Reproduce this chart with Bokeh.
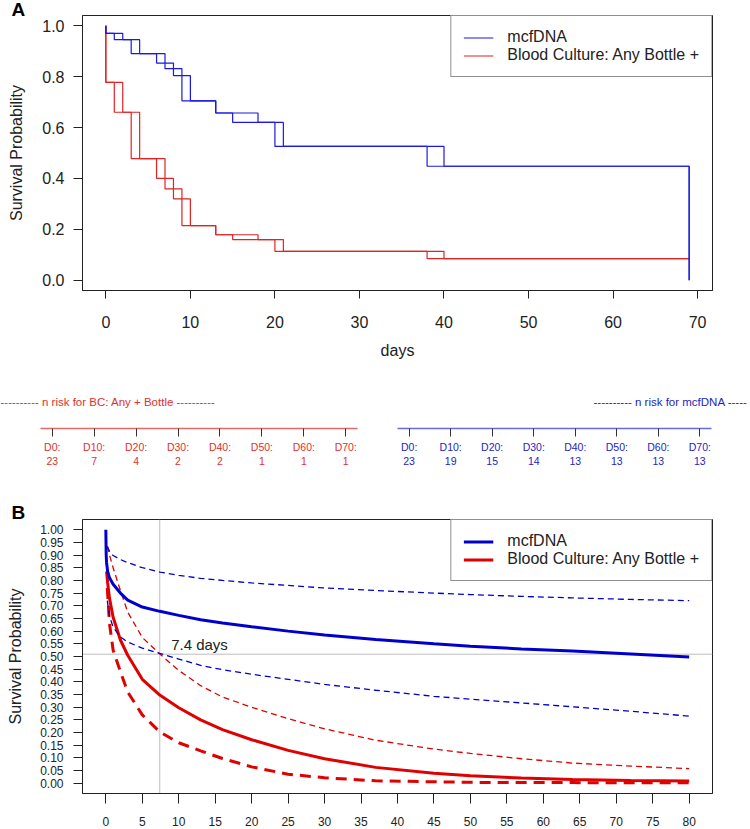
from bokeh.plotting import figure
from bokeh.models import (Range1d, FixedTicker, Legend, LegendItem, Label, Span,
                          PrintfTickFormatter, Title)
from bokeh.layouts import column, row
from bokeh.embed import file_html
from bokeh.resources import INLINE

FONT = "Liberation Sans"

# ---------------- Panel A: Kaplan-Meier step curves ----------------
mcf_days_a = [0, 0, 1, 3, 6, 7, 9, 13, 15, 20, 38, 69]
mcf_surv_a = [1.0, 0.97, 0.945, 0.89, 0.853, 0.831, 0.705, 0.657, 0.62, 0.526, 0.448, 0.0]
mcf_days_b = [0, 0, 2, 4, 7, 8, 10, 13, 18, 21, 40, 69]
mcf_surv_b = [1.0, 0.97, 0.945, 0.89, 0.853, 0.804, 0.705, 0.657, 0.62, 0.526, 0.448, 0.0]

bc_days_a = [0, 0, 1, 3, 6, 7, 9, 13, 15, 20, 38, 69]
bc_surv_a = [1.0, 0.777, 0.66, 0.478, 0.40, 0.359, 0.215, 0.179, 0.16, 0.114, 0.085, 0.085]
bc_days_b = [0, 0, 2, 4, 7, 8, 10, 13, 18, 21, 40, 69]
bc_surv_b = [1.0, 0.777, 0.66, 0.478, 0.40, 0.32, 0.215, 0.179, 0.16, 0.114, 0.085, 0.085]

a_xticks = [0, 10, 20, 30, 40, 50, 60, 70]
a_yticks = [0.0, 0.2, 0.4, 0.6, 0.8, 1.0]

# ---------------- Numbers at risk ----------------
risk_days = [0, 10, 20, 30, 40, 50, 60, 70]
risk_bc = [23, 7, 4, 2, 2, 1, 1, 1]
risk_mcf = [23, 19, 15, 14, 13, 13, 13, 13]
risk_bc_title = "---------- n risk for BC: Any + Bottle ----------"
risk_mcf_title = "---------- n risk for mcfDNA -----"

# ---------------- Panel B: parametric fits with confidence bands ----------------
mcf_fit_t = [0, 0.05, 0.1, 0.25, 0.5, 1, 2, 3, 5, 7.4, 10, 13, 16, 20, 25, 30, 37, 45, 50, 57, 64, 72, 80]
mcf_fit = [1.0, 0.90, 0.87, 0.835, 0.81, 0.785, 0.75, 0.722, 0.695, 0.678, 0.662, 0.645, 0.632,
           0.617, 0.60, 0.585, 0.567, 0.55, 0.54, 0.53, 0.522, 0.51, 0.498]

ci_t = [0.2, 0.5, 1, 2, 3, 5, 7.4, 10, 13, 16, 20, 25, 30, 37, 45, 50, 57, 64, 72, 80]
mcf_hi = [0.935, 0.915, 0.898, 0.882, 0.87, 0.85, 0.833, 0.82, 0.808, 0.80, 0.79, 0.78, 0.77,
          0.76, 0.75, 0.744, 0.737, 0.731, 0.725, 0.72]
mcf_lo = [0.72, 0.66, 0.615, 0.577, 0.557, 0.533, 0.512, 0.49, 0.465, 0.448, 0.43, 0.41, 0.39,
          0.367, 0.343, 0.332, 0.317, 0.302, 0.284, 0.265]

bc_fit_t = [0.1, 0.25, 0.5, 1, 2, 3, 5, 7.4, 10, 13, 16, 20, 25, 30, 37, 45, 50, 57, 64, 72, 80]
bc_fit = [0.835, 0.79, 0.73, 0.655, 0.565, 0.505, 0.41, 0.348, 0.298, 0.25, 0.212, 0.172, 0.13,
          0.097, 0.063, 0.04, 0.03, 0.021, 0.015, 0.011, 0.009]
bc_hi = [0.935, 0.90, 0.85, 0.76, 0.675, 0.575, 0.51, 0.445, 0.385, 0.34, 0.30, 0.255, 0.215,
         0.17, 0.135, 0.118, 0.097, 0.08, 0.068, 0.058]
bc_lo = [0.77, 0.63, 0.525, 0.44, 0.36, 0.27, 0.203, 0.16, 0.128, 0.098, 0.065, 0.036, 0.022,
         0.01, 0.006, 0.004, 0.003, 0.003, 0.002, 0.002]

b_xticks = list(range(0, 81, 5))
b_yticks = [i / 20 for i in range(21)]
median_day = 7.4
ref_prob = 0.509
median_text = "7.4 days"

labels = ["mcfDNA", "Blood Culture: Any Bottle +"]

BLUE_A, RED_A = "#1a1ae0", "#e02424"
BLUE_B, RED_B = "#0000cd", "#e00000"
GRAY = "#bebebe"
INK = "#222222"


def style(p, tick_font, label_font="16px"):
    p.grid.visible = False
    p.outline_line_color = INK
    p.outline_line_width = 1
    for ax in (p.xaxis[0], p.yaxis[0]):
        ax.axis_line_color = INK
        ax.major_tick_line_color = INK
        ax.minor_tick_line_color = None
        ax.major_tick_in = 0
        ax.major_label_text_font = FONT
        ax.major_label_text_font_size = tick_font
        ax.major_label_text_color = INK
        ax.axis_label_text_font = FONT
        ax.axis_label_text_font_size = label_font
        ax.axis_label_text_font_style = "normal"
        ax.axis_label_text_color = INK


def make_legend(renderers):
    return Legend(items=[LegendItem(label=l, renderers=[r]) for l, r in zip(labels, renderers)],
                  location="top_right", margin=0, padding=12, spacing=0,
                  glyph_width=30, glyph_height=17, label_height=17, label_standoff=14,
                  label_text_font=FONT, label_text_font_size="16px",
                  label_text_color=INK,
                  border_line_color=INK, border_line_width=1,
                  background_fill_alpha=1.0)


def panel_letter(text, offset, standoff):
    return Title(text=text, align="left", offset=offset, standoff=standoff,
                 text_font=FONT, text_font_size="19px", text_font_style="bold",
                 text_color="black")


# ================= Panel A =================
pA = figure(width=750, height=370, x_range=Range1d(-2.76, 71.76), y_range=Range1d(-0.04, 1.04),
            toolbar_location=None, output_backend="svg",
            min_border_left=82, min_border_right=38, min_border_top=15, min_border_bottom=80)
style(pA, "16px")
pA.xaxis[0].ticker = FixedTicker(ticks=a_xticks)
pA.yaxis[0].ticker = FixedTicker(ticks=a_yticks)
pA.yaxis[0].formatter = PrintfTickFormatter(format="%.1f")
pA.xaxis[0].major_tick_out = 8
pA.yaxis[0].major_tick_out = 9
pA.xaxis[0].major_label_standoff = 17
pA.yaxis[0].major_label_standoff = 9
pA.xaxis[0].axis_label = "days"
pA.xaxis[0].axis_label_standoff = 11
pA.yaxis[0].axis_label = "Survival Probability"
pA.yaxis[0].axis_label_standoff = 14

rA_bc = pA.step(bc_days_a, bc_surv_a, mode="after", line_color=RED_A, line_width=1.2)
pA.step(bc_days_b, bc_surv_b, mode="after", line_color=RED_A, line_width=1.2)
rA_mcf = pA.step(mcf_days_a, mcf_surv_a, mode="after", line_color=BLUE_A, line_width=1.2)
pA.step(mcf_days_b, mcf_surv_b, mode="after", line_color=BLUE_A, line_width=1.2)
pA.add_layout(make_legend([rA_mcf, rA_bc]))
pA.add_layout(panel_letter("A", -71, -9), "above")


# ================= Numbers at risk =================
def risk_fig(width, left, right, frame_color, text_color, counts, title, title_offset):
    p = figure(width=width, height=100, x_range=Range1d(-2.8, 72.8), y_range=Range1d(0, 1),
               y_axis_location=None, toolbar_location=None, output_backend="svg",
               min_border_left=left, min_border_right=right, min_border_top=37,
               min_border_bottom=42)
    p.grid.visible = False
    p.outline_line_color = None
    ax = p.xaxis[0]
    ax.ticker = FixedTicker(ticks=risk_days)
    ax.major_label_overrides = {d: "D%d:\n%d" % (d, n) for d, n in zip(risk_days, counts)}
    ax.axis_line_color = frame_color
    ax.axis_line_width = 1.3
    ax.major_tick_line_color = "#333333"
    ax.major_tick_out = 8
    ax.major_tick_in = 0
    ax.minor_tick_line_color = None
    ax.major_label_standoff = 4
    ax.major_label_text_font = FONT
    ax.major_label_text_font_size = "10.5px"
    ax.major_label_text_color = text_color
    p.add_layout(Title(text=title, align="left", offset=title_offset, standoff=0,
                       text_font=FONT, text_font_size="11.5px", text_font_style="normal",
                       text_color=text_color), "above")
    return p


pR = risk_fig(377, 40, 20, "#e06a6a", "#e03030", risk_bc, risk_bc_title, -40)
pM = risk_fig(373, 20, 39, "#6a6ad8", "#2424c0", risk_mcf, risk_mcf_title, 196)

# ================= Panel B =================
pB = figure(width=750, height=359, x_range=Range1d(-3.2, 83.2), y_range=Range1d(-0.04, 1.04),
            toolbar_location=None, output_backend="svg",
            min_border_left=82, min_border_right=38, min_border_top=49, min_border_bottom=36)
style(pB, "12px")
pB.xaxis[0].ticker = FixedTicker(ticks=b_xticks)
pB.yaxis[0].ticker = FixedTicker(ticks=b_yticks)
pB.yaxis[0].formatter = PrintfTickFormatter(format="%.2f")
pB.xaxis[0].major_tick_out = 10
pB.yaxis[0].major_tick_out = 9
pB.xaxis[0].major_label_standoff = 13
pB.yaxis[0].major_label_standoff = 10
pB.yaxis[0].axis_label = "Survival Probability"
pB.yaxis[0].axis_label_standoff = 13

pB.add_layout(Span(location=median_day, dimension="height", line_color=GRAY, line_width=1,
                   level="underlay"))
pB.add_layout(Span(location=ref_prob, dimension="width", line_color=GRAY, line_width=1,
                   level="underlay"))

pB.line(ci_t, bc_hi, line_color=RED_B, line_width=1.3, line_dash="6 4")
pB.line(ci_t, bc_lo, line_color=RED_B, line_width=3, line_dash="11 7")
rB_bc = pB.line(bc_fit_t, bc_fit, line_color=RED_B, line_width=3)
pB.line(ci_t, mcf_hi, line_color=BLUE_B, line_width=1.3, line_dash="6 4")
pB.line(ci_t, mcf_lo, line_color=BLUE_B, line_width=1.3, line_dash="6 4")
rB_mcf = pB.line(mcf_fit_t, mcf_fit, line_color=BLUE_B, line_width=3)

pB.add_layout(make_legend([rB_mcf, rB_bc]))

pB.add_layout(Label(x=8.96, y=0.512, text=median_text, text_font=FONT, text_font_size="15px",
                    text_color=INK))
pB.add_layout(panel_letter("B", -71, -6), "above")

layout = column(pA, row(pR, pM), pB)
open("out.html", "w").write(file_html(layout, INLINE))
